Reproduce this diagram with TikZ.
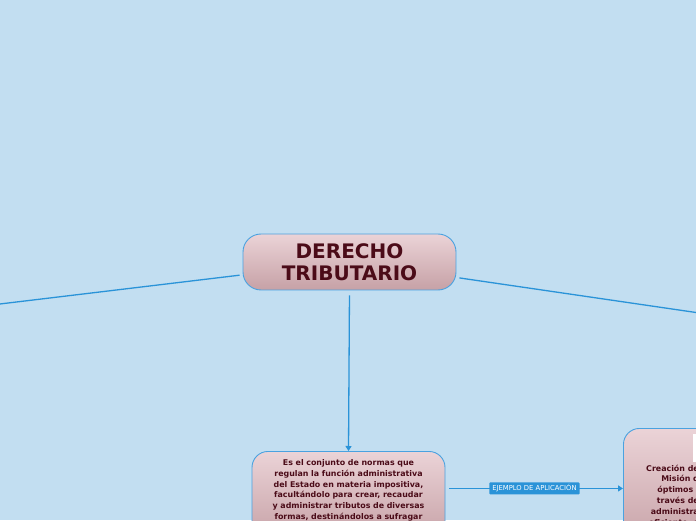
\documentclass[tikz,border=0pt]{standalone}
\usepackage{fontspec}
\setmainfont{DejaVu Sans}
\usetikzlibrary{arrows.meta,positioning,calc}

\definecolor{fondo}{HTML}{C2DEF1}
\definecolor{enlace}{HTML}{2A93D8}
\definecolor{borde}{HTML}{4AA2E0}
\definecolor{tinta}{HTML}{4B0B18}
\definecolor{rosaA}{HTML}{EBD3D7}
\definecolor{rosaB}{HTML}{C6A1A6}

\tikzset{
	tema/.style={draw=borde, line width=0.9pt, rounded corners=18pt,
		top color=rosaA, bottom color=rosaB, text=tinta,
		font=\bfseries, align=center},
	rama/.style={draw=enlace, line width=1.3pt},
	flecha/.style={rama, -{Triangle[length=5pt,width=6pt]}},
	etiqueta/.style={fill=enlace, text=white, rounded corners=1pt,
		font=\fontsize{6.8}{8}\selectfont, inner xsep=3pt, inner ysep=2.2pt}
}

\begin{document}
\begin{tikzpicture}[x=1pt, y=1pt]
	\fill[fondo] (0,0) rectangle (696,520);
	\useasboundingbox (0,0) rectangle (696,520);

	\node[tema, minimum width=213pt, minimum height=56pt,
		font=\fontsize{20}{22}\selectfont\bfseries] (tributario) at (349.5,258)
		{DERECHO\\TRIBUTARIO};

	\node[tema, anchor=north, minimum width=193pt, text width=185pt,
		inner ysep=8pt, rounded corners=16pt,
		font=\fontsize{7.9}{10.8}\selectfont\bfseries] (concepto) at (348.5,69)
		{Es el conjunto de normas que\\regulan la función administrativa\\del Estado en materia impositiva,\\facultándolo para crear, recaudar\\y administrar tributos de diversas\\formas, destinándolos a sufragar\\los gastos publicos};

	\node[tema, anchor=north west, minimum width=193pt, minimum height=120pt,
		rounded corners=16pt] (ejemplo) at (623,92) {};
	\node[fill=white, anchor=north west, minimum width=20pt, minimum height=28pt,
		inner sep=0pt] (imagen) at (692.3,86) {};
	\node[anchor=north east, align=right, text=tinta, inner sep=0pt,
		font=\fontsize{7.9}{10.8}\selectfont\bfseries] (ejemplotexto) at (699,55.5)
		{Creación de\\Misión d\\óptimos l\\través de\\administra\\eficiente, e};

	\coordinate (izquierda) at (-150,198);
	\coordinate (derecha) at (850,185);

	\draw[rama, shorten <=3pt] (tributario) -- (izquierda);
	\draw[rama, shorten <=3pt] (tributario) -- (derecha);
	\draw[flecha, shorten <=5pt] (tributario.south) -- (concepto.north);
	\draw[flecha] ([xshift=4pt]concepto.east |- ejemplo.west) -- (ejemplo.west)
		node[etiqueta, pos=0.49] (aplicacion) {EJEMPLO DE APLICACIÓN};
\end{tikzpicture}
\end{document}
